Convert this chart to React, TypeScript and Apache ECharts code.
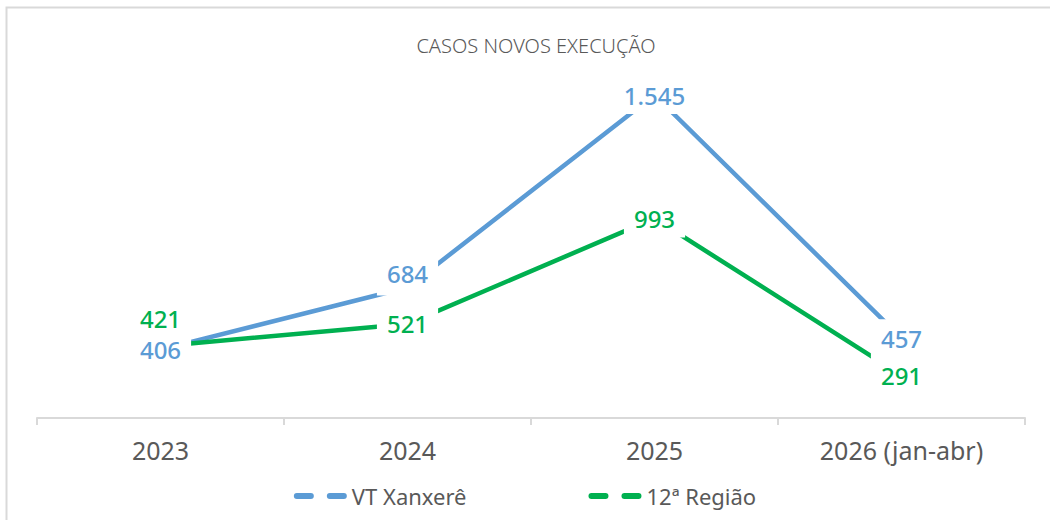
import React, { useEffect, useRef } from "react";
import * as echarts from "echarts";

const title = "CASOS NOVOS EXECUÇÃO";
const categories = ["2023", "2024", "2025", "2026 (jan-abr)"];
const seriesNames = ["VT Xanxerê", "12ª Região"];
const vtXanxere = [406, 684, 1545, 457];
const regiao12 = [421, 521, 993, 291];
const vtLabelOffsets = [0, -14, 0, 0];
const regiaoLabelOffsets = [-28, 0, 0, 0];

const BLUE = "#5B9BD5";
const GREEN = "#00B050";
const GRAY = "#595959";
const FONT = "'Noto Sans', 'Open Sans', sans-serif";

const fmt = (v: number) => v.toLocaleString("pt-BR");

const legendIcon =
  "path://M3,0h14a3,3 0 0 1 0,6h-14a3,3 0 0 1 0,-6z M36,0h14a3,3 0 0 1 0,6h-14a3,3 0 0 1 0,-6z";

function makeData(values: number[], offsets: number[]) {
  return values.map((v, i) => ({
    value: v,
    label:
      offsets[i] === -14
        ? { offset: [0, offsets[i]], padding: [5, 10, 11, 10] }
        : { offset: [0, offsets[i]] },
  }));
}

export default function App() {
  const ref = useRef<HTMLDivElement>(null);
  useEffect(() => {
    if (!ref.current) return;
    const chart = echarts.init(ref.current, undefined, { renderer: "svg" });
    const mkLabel = (color: string) => ({
      show: true,
      position: "inside",
      color,
      fontFamily: FONT,
      fontSize: 24,
      fontWeight: 500,
      lineHeight: 28,
      backgroundColor: "#ffffff",
      padding: [5, 10],
      formatter: (p: any) => fmt(p.value),
    });
    chart.setOption({
      animation: false,
      backgroundColor: "#ffffff",
      title: {
        text: title,
        left: 531,
        textAlign: "center",
        top: 30,
        textStyle: { color: GRAY, fontFamily: FONT, fontSize: 20, fontWeight: 300 },
      },
      legend: {
        bottom: 8,
        left: "center",
        itemGap: 122,
        itemWidth: 53,
        itemHeight: 6,
        icon: legendIcon,
        textStyle: { color: GRAY, fontFamily: FONT, fontSize: 22 },
        data: seriesNames,
      },
      grid: { left: 37, right: 25, top: 38, bottom: 102, containLabel: false },
      xAxis: {
        type: "category",
        data: categories,
        boundaryGap: true,
        axisLine: { lineStyle: { color: "#d9d9d9", width: 2 } },
        axisTick: { show: true, length: 7, lineStyle: { color: "#d9d9d9", width: 2 } },
        axisLabel: { color: GRAY, fontFamily: FONT, fontSize: 25, margin: 19 },
      },
      yAxis: {
        type: "value",
        min: 100,
        max: 1800,
        show: false,
        splitLine: { show: false },
      },
      graphic: [
        {
          type: "rect",
          shape: { x: 6.5, y: 7.5, width: 1200, height: 700 },
          style: { fill: "none", stroke: "#d9d9d9", lineWidth: 2 },
          silent: true,
        },
      ],
      series: [
        {
          name: seriesNames[0],
          type: "line",
          data: makeData(vtXanxere, vtLabelOffsets),
          color: BLUE,
          symbol: "circle",
          symbolSize: 0.1,
          lineStyle: { color: BLUE, width: 4.5 },
          label: mkLabel(BLUE),
        },
        {
          name: seriesNames[1],
          type: "line",
          data: makeData(regiao12, regiaoLabelOffsets),
          color: GREEN,
          symbol: "circle",
          symbolSize: 0.1,
          lineStyle: { color: GREEN, width: 4.5 },
          label: mkLabel(GREEN),
        },
      ],
    });
    return () => chart.dispose();
  }, []);
  return (
    <div
      ref={ref}
      style={{ position: "fixed", left: 0, top: 0, width: 1050, height: 520 }}
    />
  );
}
